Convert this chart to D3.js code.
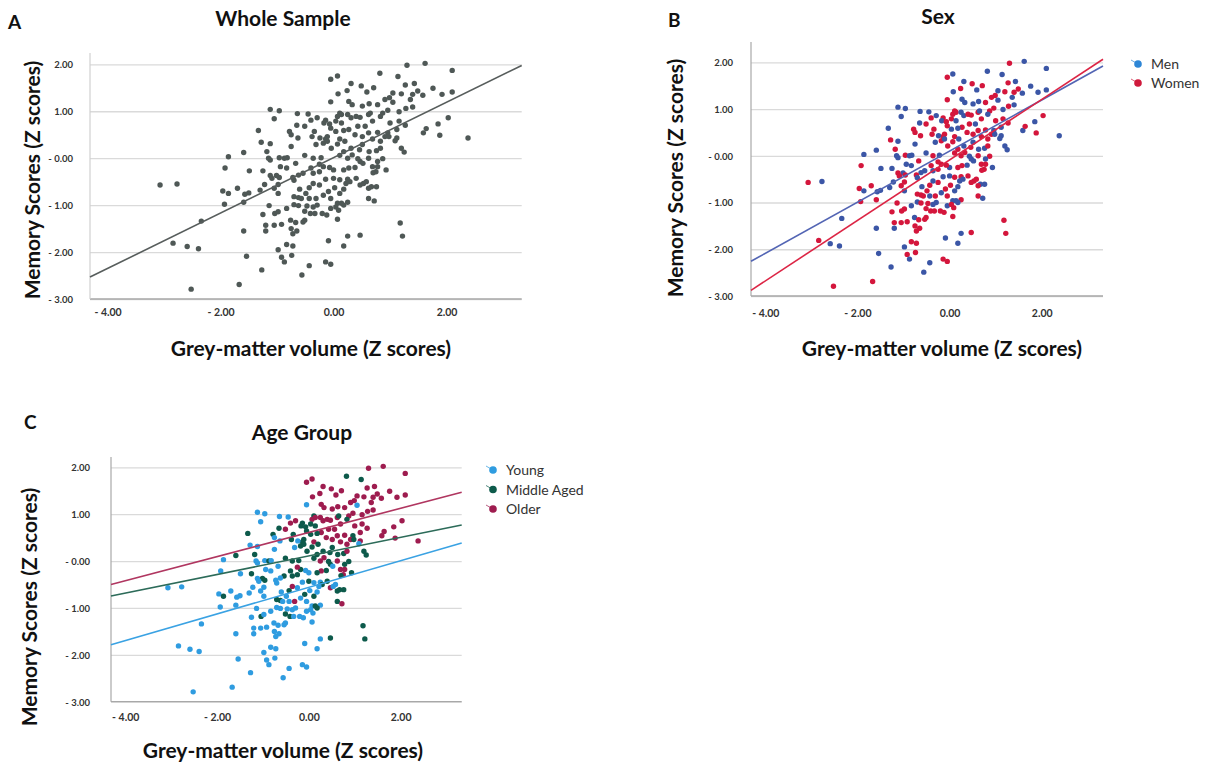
<!DOCTYPE html>
<html lang="en">
<head>
<meta charset="UTF-8">
<title>Memory scores vs grey-matter volume</title>
<script src="https://d3js.org/d3.v7.min.js"></script>
<style>
  body { margin: 0; background: #fff; }
  svg text { font-family: Lato, "Open Sans", sans-serif; }
</style>
</head>
<body>
<svg id="chart" width="1211" height="767"></svg>
<script>
// one row per subject: [grey-matter volume z, memory z, sex, age group]
const subjects = [
  [1.62,2.02,"M","O"],[1.30,1.98,"W","O"],[0.07,1.75,"M","O"],[-0.05,1.68,"W","O"],[0.82,1.81,"M","M"],
  [1.14,1.74,"M","M"],[0.31,1.59,"M","O"],[0.49,1.54,"W","O"],[0.71,1.50,"W","O"],[1.27,1.56,"W","O"],
  [1.43,1.59,"M","O"],[1.76,1.49,"M","O"],[1.92,1.36,"M","O"],[1.49,1.43,"W","O"],[0.24,1.44,"W","O"],
  [0.59,1.41,"M","O"],[0.08,1.37,"M","O"],[-0.05,1.20,"W","Y"],[0.27,1.21,"M","O"],[0.33,1.14,"M","O"],
  [0.51,1.11,"M","O"],[0.63,1.16,"M","O"],[0.78,1.14,"W","O"],[0.91,1.25,"W","O"],[0.99,1.29,"W","O"],
  [1.05,1.39,"M","O"],[1.20,1.37,"W","O"],[1.36,1.25,"M","O"],[1.40,1.36,"W","O"],[1.58,1.34,"M","O"],
  [0.87,0.96,"W","O"],[0.96,1.02,"W","O"],[1.05,1.19,"M","Y"],[1.28,1.06,"W","O"],[1.16,0.99,"M","O"],
  [1.40,1.09,"M","O"],[-1.12,1.04,"M","Y"],[-0.96,1.01,"M","Y"],[-1.05,0.84,"M","Y"],[-0.64,0.95,"M","Y"],
  [-0.45,0.94,"M","Y"],[-0.29,0.86,"M","O"],[-0.40,0.81,"W","O"],[-0.14,0.81,"W","M"],[-0.17,0.75,"M","M"],
  [0.11,0.96,"W","M"],[0.07,0.89,"W","O"],[0.14,0.93,"W","O"],[0.04,0.79,"W","M"],[-0.07,0.73,"W","M"],
  [0.14,0.75,"M","M"],[0.25,0.93,"M","O"],[0.31,0.86,"M","O"],[0.40,0.89,"W","O"],[0.47,0.87,"W","O"],
  [0.62,0.93,"W","O"],[0.65,0.96,"M","M"],[0.83,0.89,"M","M"],[0.69,0.79,"W","O"],[0.56,0.68,"M","O"],
  [0.43,0.68,"W","O"],[0.27,0.61,"W","O"],[0.18,0.59,"M","M"],[0.04,0.57,"M","M"],[-0.05,0.64,"W","M"],
  [-0.11,0.46,"W","M"],[-0.14,0.41,"W","M"],[-0.24,0.43,"M","Y"],[-0.34,0.57,"W","M"],[-0.38,0.46,"W","M"],
  [-0.51,0.68,"W","O"],[-0.65,0.70,"M","M"],[-0.78,0.57,"W","M"],[-0.75,0.50,"W","Y"],[-0.63,0.43,"W","Y"],
  [-1.33,0.59,"M","M"],[1.00,0.75,"W","O"],[1.16,0.79,"W","O"],[1.27,0.70,"W","O"],[1.12,0.61,"M","O"],
  [0.96,0.54,"M","M"],[0.91,0.46,"W","O"],[0.78,0.55,"W","O"],[0.62,0.54,"W","O"],[0.69,0.41,"W","O"],
  [0.51,0.46,"W","O"],[0.38,0.50,"W","O"],[0.83,0.36,"W","O"],[1.12,0.43,"M","O"],[1.09,0.37,"M","Y"],
  [0.98,0.46,"M","M"],[1.59,0.54,"M","O"],[1.64,0.63,"W","O"],[1.85,0.73,"M","O"],[1.88,0.49,"W","O"],
  [2.03,0.86,"W","O"],[2.10,1.87,"M","O"],[2.10,1.41,"M","O"],[2.38,0.43,"M","O"],
  [-1.28,0.34,"W","Y"],[-1.12,0.31,"M","Y"],[-1.18,0.14,"W","M"],[-1.59,0.12,"M","M"],[-1.86,0.03,"M","Y"],
  [-1.15,0.00,"M","Y"],[-1.12,-0.04,"M","Y"],[-0.96,0.01,"W","Y"],[-0.87,0.00,"M","M"],[-0.82,0.01,"M","Y"],
  [-0.75,0.25,"M","Y"],[-0.67,-0.11,"W","Y"],[-0.51,0.06,"M","M"],[-0.36,0.00,"W","M"],[-0.31,0.29,"M","Y"],
  [-0.18,0.32,"W","M"],[-0.11,0.36,"M","M"],[-0.04,0.21,"W","M"],[0.07,0.30,"W","M"],[0.11,0.41,"W","O"],
  [0.20,0.36,"M","M"],[0.31,0.21,"M","M"],[0.33,0.07,"W","O"],[0.18,0.14,"W","M"],[0.11,0.06,"W","M"],
  [0.25,0.00,"W","O"],[0.46,0.18,"W","M"],[0.51,0.29,"M","M"],[0.63,0.14,"M","M"],[0.62,0.00,"W","O"],
  [0.76,0.16,"M","M"],[0.83,0.21,"W","O"],[0.87,-0.01,"W","M"],[0.69,-0.18,"W","O"],[0.78,-0.07,"M","M"],
  [0.47,-0.07,"M","M"],[0.43,-0.01,"M","M"],[0.52,-0.11,"M","Y"],[0.38,-0.20,"M","M"],[0.27,-0.21,"W","O"],
  [0.18,-0.25,"W","M"],[0.00,-0.25,"M","Y"],[-0.07,-0.20,"W","Y"],[-0.18,-0.18,"W","M"],[-0.25,-0.13,"W","O"],
  [-0.22,0.01,"M","M"],[-0.40,-0.21,"W","M"],[-0.54,-0.32,"M","M"],[-0.62,-0.36,"M","Y"],[-0.72,-0.41,"W","Y"],
  [-0.94,-0.18,"M","Y"],[-0.83,-0.21,"M","Y"],[-1.01,-0.37,"M","M"],[-1.12,-0.37,"W","Y"],[-1.25,-0.27,"M","M"],
  [-1.49,-0.27,"M","Y"],[-1.92,-0.21,"W","Y"],[1.20,0.21,"M","M"],[1.25,0.13,"M","M"],[0.93,-0.25,"M","M"],
  [0.78,-0.18,"W","O"],[0.75,-0.29,"W","O"],[-0.70,-0.47,"M","Y"],[-0.36,-0.32,"M","M"],[-0.25,-0.29,"W","M"],
  [-0.14,-0.45,"M","Y"],[0.00,-0.43,"M","M"],[0.11,-0.46,"W","Y"],[0.25,-0.45,"W","Y"],[0.29,-0.50,"M","M"],
  [0.22,-0.54,"M","Y"],[0.47,-0.57,"W","O"],[0.53,-0.54,"W","Y"],[0.58,-0.50,"W","Y"],[0.67,-0.61,"M","M"],
  [0.76,-0.61,"M","M"],[0.62,-0.64,"W","M"],[0.40,-0.43,"W","M"],[0.70,-0.31,"W","M"],[-0.25,-0.57,"W","Y"],
  [-0.36,-0.54,"M","O"],[-0.43,-0.63,"W","M"],[-0.60,-0.66,"M","Y"],[-0.70,-0.82,"W","M"],[-0.62,-0.84,"W","M"],
  [-0.57,-0.86,"W","Y"],[-0.49,-0.75,"W","Y"],[-0.43,-0.86,"M","Y"],[-0.31,-0.86,"W","O"],[-0.18,-0.79,"M","Y"],
  [-0.09,-0.71,"W","M"],[0.02,-0.63,"W","Y"],[0.11,-0.75,"M","M"],[0.18,-0.66,"M","Y"],[0.25,-0.94,"W","Y"],
  [0.18,-1.00,"M","M"],[0.07,-0.96,"M","Y"],[-0.05,-0.86,"W","Y"],[0.62,-0.86,"W","M"],[0.72,-0.91,"M","O"],
  [-1.05,-0.64,"W","Y"],[-0.98,-0.56,"W","Y"],[-1.09,-0.43,"W","Y"],[-0.96,-0.41,"W","M"],[-1.22,-0.56,"M","Y"],
  [-1.30,-0.68,"M","Y"],[-1.50,-0.74,"M","Y"],[-1.57,-0.77,"M","Y"],[-1.70,-0.64,"W","Y"],[-1.96,-0.70,"W","Y"],
  [-1.86,-0.75,"M","M"],[-1.93,-0.98,"W","Y"],[-1.59,-0.94,"W","Y"],[-0.98,-0.75,"M","Y"],[-1.14,-1.01,"W","Y"],
  [-0.83,-1.07,"M","Y"],[-0.70,-0.99,"M","Y"],[-0.62,-1.01,"W","Y"],[-0.47,-1.02,"W","Y"],[-0.36,-1.04,"M","Y"],
  [-0.51,-1.13,"W","M"],[-0.41,-1.18,"W","M"],[-0.29,-1.00,"M","Y"],[-0.20,-1.18,"W","Y"],[-0.12,-1.21,"W","Y"],
  [-0.33,-1.18,"W","Y"],[-0.05,-1.07,"M","Y"],[0.04,-1.04,"W","Y"],[0.09,-1.11,"W","Y"],[0.14,-0.96,"M","M"],
  [-1.25,-1.20,"W","Y"],[-1.04,-1.18,"W","M"],[-0.98,-1.14,"W","Y"],[0.07,-1.30,"W","Y"],[-1.20,-1.43,"W","Y"],
  [-1.05,-1.43,"W","Y"],[-0.92,-1.41,"W","Y"],[-0.76,-1.32,"M","Y"],[-0.67,-1.37,"W","Y"],[-0.54,-1.36,"W","Y"],
  [-0.51,-1.32,"W","Y"],[-0.75,-1.50,"W","Y"],[-0.65,-1.55,"W","Y"],[-0.72,-1.61,"W","Y"],[-1.20,-1.55,"M","Y"],
  [-1.59,-1.55,"M","Y"],[-2.34,-1.34,"M","Y"],[-0.83,-1.84,"W","Y"],[-0.72,-1.87,"W","Y"],[-0.98,-1.95,"M","Y"],
  [-0.92,-2.11,"W","Y"],[-0.87,-2.21,"M","Y"],[-0.74,-2.07,"W","Y"],[-0.09,-1.76,"M","Y"],[0.18,-1.87,"M","Y"],
  [0.25,-1.66,"M","Y"],[0.47,-1.64,"W","M"],[1.18,-1.38,"W","M"],[1.22,-1.66,"W","M"],[-1.27,-2.38,"M","Y"],
  [-1.54,-2.09,"M","Y"],[-0.43,-2.29,"M","Y"],[-0.56,-2.49,"M","Y"],[-0.14,-2.21,"W","Y"],[-0.05,-2.26,"W","Y"],
  [-1.67,-2.69,"W","Y"],[-2.52,-2.79,"W","Y"],[-2.84,-1.81,"W","Y"],[-2.59,-1.88,"M","Y"],[-2.39,-1.93,"M","Y"],
  [-3.07,-0.57,"W","Y"],[-2.77,-0.55,"M","Y"]
];

// fit lines: [intercept, slope]
const wholeFit = [0.01, 0.59];
const sexKeys = ["M", "W"];
const sexNames = ["Men", "Women"];
const sexFits = [[0.10, 0.547], [-0.09, 0.647]];
const ageKeys = ["Y", "M", "O"];
const ageNames = ["Young", "Middle Aged", "Older"];
const ageFits = [[-0.56, 0.284], [0.11, 0.198], [0.61, 0.258]];

const yTicks = [2, 1, 0, -1, -2, -3];
const yTickLabels = ["2.00", "1.00", "- 0.00", "- 1.00", "- 2.00", "- 3.00"];
const xTicks = [-4, -2, 0, 2];
const xTickLabels = ["- 4.00", "- 2.00", "0.00", "2.00"];
const xDomain = [-4.31, 3.33];

const svg = d3.select("#chart");

function drawPanel(p) {
  const g = svg.append("g");
  const x = d3.scaleLinear().domain(xDomain).range([p.left, p.right]);
  const y = d3.scaleLinear().domain([-3, 2]).range([p.bottom, p.top2]);

  // horizontal grid
  g.append("g")
    .attr("transform", `translate(${p.left},0)`)
    .call(d3.axisLeft(y).tickValues(yTicks).tickSize(-(p.right - p.left)).tickFormat(""))
    .call(s => s.select(".domain").remove())
    .call(s => s.selectAll("line").attr("stroke", "#dadada").attr("stroke-width", 1.3));

  // tick labels
  g.append("g")
    .attr("transform", `translate(${p.left - p.yLabGap},0)`)
    .call(d3.axisLeft(y).tickValues(yTicks).tickSize(0).tickFormat(d => yTickLabels[yTicks.indexOf(d)]))
    .call(s => s.select(".domain").remove())
    .call(s => s.selectAll("text")
      .attr("font-family", "'Liberation Serif', serif").attr("font-weight", "bold")
      .attr("font-size", 9.5).attr("fill", "#333").attr("dy", "0.35em"));

  g.append("g")
    .attr("transform", `translate(0,${p.bottom + p.xLabGap})`)
    .call(d3.axisBottom(x).tickValues(xTicks).tickSize(0).tickFormat(d => xTickLabels[xTicks.indexOf(d)]))
    .call(s => s.select(".domain").remove())
    .call(s => s.selectAll("text")
      .attr("font-family", "'Liberation Serif', serif").attr("font-weight", "bold")
      .attr("font-size", 10.5).attr("fill", "#333"));

  // axis lines
  g.append("line").attr("x1", p.left).attr("x2", p.right).attr("y1", p.bottom).attr("y2", p.bottom)
    .attr("stroke", "#a8a8a8").attr("stroke-width", 1.3);
  g.append("line").attr("x1", p.left).attr("x2", p.left).attr("y1", p.axisTop).attr("y2", p.bottom)
    .attr("stroke", p.yAxisColor).attr("stroke-width", 1.2);

  // points
  g.append("g").selectAll("circle")
    .data(subjects)
    .join("circle")
    .attr("cx", d => x(d[0]))
    .attr("cy", d => y(d[1]))
    .attr("r", 2.7)
    .attr("fill", p.pointColor);

  // fit lines
  p.fits.forEach((f, i) => {
    g.append("line")
      .attr("x1", x(xDomain[0])).attr("y1", y(f[0] + f[1] * xDomain[0]))
      .attr("x2", x(xDomain[1])).attr("y2", y(f[0] + f[1] * xDomain[1]))
      .attr("stroke", p.lineColors[i]).attr("stroke-width", 1.6);
  });

  // texts
  g.append("text").attr("x", p.letter[0]).attr("y", p.letter[1])
    .attr("font-size", 19).attr("font-weight", "bold").attr("fill", "#111").text(p.letterText);
  g.append("text").attr("x", p.title[0]).attr("y", p.title[1]).attr("text-anchor", "middle")
    .attr("font-size", 21).attr("font-weight", "bold").attr("fill", "#111").text(p.titleText);
  g.append("text").attr("x", p.xTitle[0]).attr("y", p.xTitle[1]).attr("text-anchor", "middle")
    .attr("font-size", 21).attr("font-weight", "bold").attr("fill", "#111")
    .text("Grey-matter volume (Z scores)");
  g.append("text")
    .attr("transform", `translate(${p.yTitle[0]},${p.yTitle[1]}) rotate(-90)`)
    .attr("text-anchor", "middle")
    .attr("font-size", 21).attr("font-weight", "bold").attr("fill", "#111")
    .text("Memory Scores (Z scores)");

  // legend
  if (p.legend) {
    const lg = g.append("g").attr("transform", `translate(${p.legend.x},${p.legend.y})`);
    p.legend.names.forEach((name, i) => {
      const row = lg.append("g").attr("transform", `translate(0,${i * p.legend.step})`);
      row.append("line").attr("x1", -7).attr("y1", -4).attr("x2", 0).attr("y2", 0)
        .attr("stroke", p.legend.colors[i]).attr("stroke-width", 1).attr("opacity", 0.7);
      row.append("circle").attr("r", 3.8).attr("fill", p.legend.colors[i]);
      row.append("text").attr("x", 13).attr("y", 5).attr("font-size", 14).attr("fill", "#333").text(name);
    });
  }
}

const sexColors = ["#3b56a6", "#d4163c"];
const ageColors = ["#2f9ce0", "#0d5a4b", "#9e1c4f"];

drawPanel({
  left: 90, right: 521.7, top2: 64.3, bottom: 299, axisTop: 53,
  yLabGap: 14, xLabGap: 7, yAxisColor: "#d0d0d0",
  pointColor: "#4f5856", fits: [wholeFit], lineColors: ["#575d5c"],
  letter: [8, 29], letterText: "A",
  title: [283, 26], titleText: "Whole Sample",
  xTitle: [311, 356], yTitle: [40, 180]
});

drawPanel({
  left: 751, right: 1103, top2: 62.3, bottom: 296, axisTop: 42,
  yLabGap: 15, xLabGap: 11, yAxisColor: "#a8a8a8",
  pointColor: d => sexColors[sexKeys.indexOf(d[2])],
  fits: sexFits, lineColors: ["#5365b4", "#dc2545"],
  letter: [668, 27], letterText: "B",
  title: [938, 24], titleText: "Sex",
  xTitle: [942, 356], yTitle: [683, 178],
  legend: { x: 1138, y: 64, step: 19, names: sexNames, colors: ["#2e86d6", "#cf1a3c"] }
});

drawPanel({
  left: 111, right: 461.7, top2: 467.3, bottom: 701.7, axisTop: 457,
  yLabGap: 18, xLabGap: 9, yAxisColor: "#a8a8a8",
  pointColor: d => ageColors[ageKeys.indexOf(d[3])],
  fits: ageFits, lineColors: ["#3aa2e3", "#2c6b59", "#b03660"],
  letter: [24, 429], letterText: "C",
  title: [302, 440], titleText: "Age Group",
  xTitle: [283, 758], yTitle: [37, 607],
  legend: { x: 493, y: 470, step: 19.5, names: ageNames, colors: ageColors }
});
</script>
</body>
</html>
